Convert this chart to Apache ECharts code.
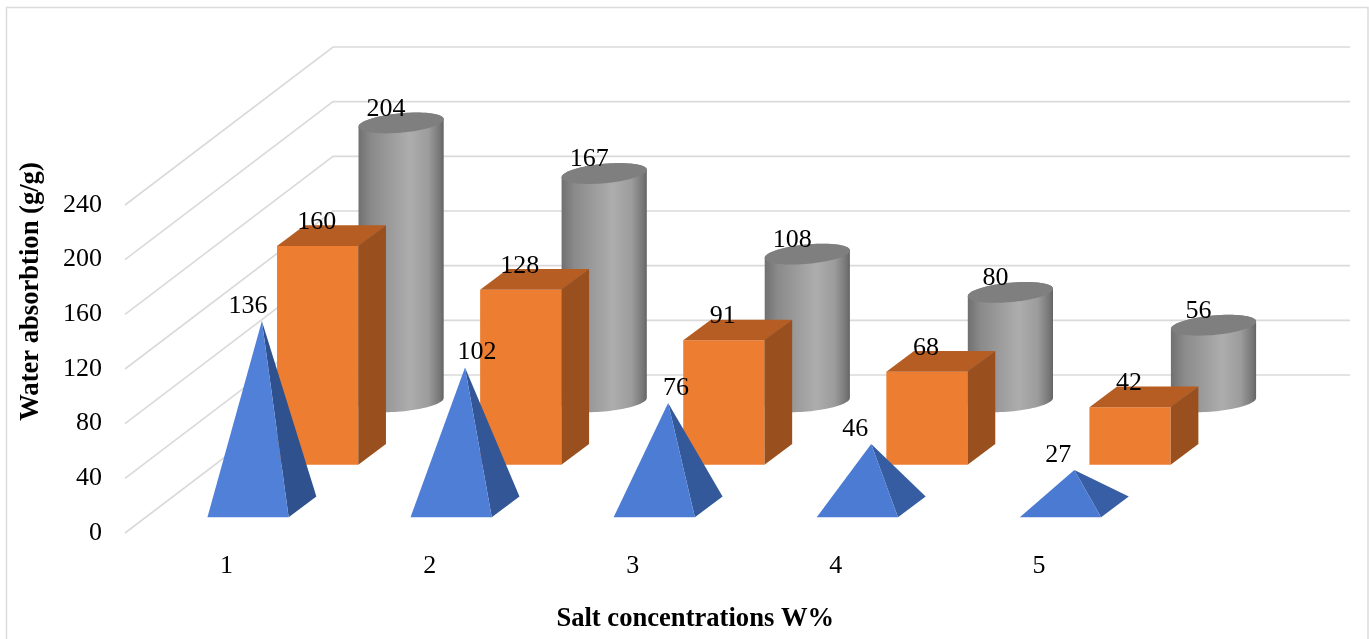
<!DOCTYPE html>
<html>
<head>
<meta charset="utf-8">
<style>html,body{margin:0;padding:0;background:#fff}#c{width:1369px;height:639px}</style>
<script src="https://cdn.jsdelivr.net/npm/echarts@6/dist/echarts.min.js"></script>
</head>
<body>
<div id="c"></div>
<script>
// ---- data ----
const categories = ['1', '2', '3', '4', '5'];
const yTicks = [0, 40, 80, 120, 160, 200, 240];
const pyramidValues = [136, 102, 76, 46, 27];
const boxValues = [160, 128, 91, 68, 42];
const cylinderValues = [204, 167, 108, 80, 56];

// ---- label nudges and projection, not data ----
const pyramidLabelNudge = [-14, 12, 8, -16, -16];
const FONT = '"Liberation Serif","Times New Roman",serif';
const LABEL_SIZE = 26;
const WIDTH_RATIO = 0.4;
const DEPTH = [27.7, -20.7];
const ROW_STEP = [69.6, -52.6];
const WALL = [208, -158];
const ROW0 = [21.5, -15.7];

const chart = echarts.init(document.getElementById('c'), null, {renderer: 'canvas'});

function pairs(a) { return a.map((v, i) => [i, v]); }
function frontBase(api, row) {
  const p = api.coord([api.value(0), 0]);
  return [p[0] + ROW0[0] + row * ROW_STEP[0], p[1] + ROW0[1] + row * ROW_STEP[1]];
}
function label(text, x, y) {
  return {type: 'text', z2: 50, silent: true,
    style: {text: String(text), x: x, y: y + 1, align: 'center', verticalAlign: 'middle',
      font: LABEL_SIZE + 'px ' + FONT, fill: '#000'}};
}
function mix(a, b, t) {
  return 'rgb(' + a.map((v, i) => Math.round(v + (b[i] - v) * t)).join(',') + ')';
}
function renderWall(params, api) {
  const x0 = params.coordSys.x, w = params.coordSys.width;
  const y = api.coord([0, api.value(1)])[1];
  return {type: 'polyline', silent: true,
    shape: {points: [[x0, y], [x0 + WALL[0], y + WALL[1]], [x0 + WALL[0] + w + 1.5, y + WALL[1]]]},
    style: {stroke: '#DADADA', lineWidth: 1.6, fill: null}};
}
function renderPyramid(params, api) {
  const v = api.value(1), w = api.size([1, 0])[0] * WIDTH_RATIO;
  const b = frontBase(api, 0);
  const h = api.coord([0, 0])[1] - api.coord([0, v])[1];
  const xL = b[0] - w / 2, xR = b[0] + w / 2;
  const apex = [b[0] + DEPTH[0] / 2, b[1] + DEPTH[1] / 2 - h];
  const t = v / 136;
  return {type: 'group', children: [
    {type: 'polygon', shape: {points: [[xR, b[1]], [xR + DEPTH[0], b[1] + DEPTH[1]], apex]},
      style: {fill: mix([58, 98, 170], [47, 82, 143], t)}},
    {type: 'polygon', shape: {points: [[xL, b[1]], [xR, b[1]], apex]},
      style: {fill: mix([74, 120, 208], [80, 128, 216], t)}},
    label(v, apex[0] + pyramidLabelNudge[api.value(0)], apex[1] - 16)
  ]};
}
function renderBox(params, api) {
  const v = api.value(1), w = api.size([1, 0])[0] * WIDTH_RATIO;
  const b = frontBase(api, 1);
  const h = api.coord([0, 0])[1] - api.coord([0, v])[1];
  const xL = b[0] - w / 2, xR = b[0] + w / 2, yB = b[1], yT = b[1] - h;
  const dx = DEPTH[0], dy = DEPTH[1];
  return {type: 'group', children: [
    {type: 'polygon', shape: {points: [[xL, yB], [xR, yB], [xR, yT], [xL, yT]]}, style: {fill: '#ED7D31'}},
    {type: 'polygon', shape: {points: [[xL, yT], [xR, yT], [xR + dx, yT + dy], [xL + dx, yT + dy]]}, style: {fill: '#B55D23'}},
    {type: 'polygon', shape: {points: [[xR, yB], [xR + dx, yB + dy], [xR + dx, yT + dy], [xR, yT]]}, style: {fill: '#9A501E'}},
    label(v, b[0] - 1, yT - 25)
  ]};
}
function ellipsePts(cx, cy, a, b, th, from, to, n) {
  const pts = [];
  for (let i = 0; i <= n; i++) {
    const t = from + (to - from) * i / n;
    pts.push([cx + a * Math.cos(t) * Math.cos(th) - b * Math.sin(t) * Math.sin(th),
              cy + a * Math.cos(t) * Math.sin(th) + b * Math.sin(t) * Math.cos(th)]);
  }
  return pts;
}
function renderCylinder(params, api) {
  const v = api.value(1), w = api.size([1, 0])[0] * WIDTH_RATIO;
  const b = frontBase(api, 2);
  const cx = b[0] + DEPTH[0] / 2, cyB = b[1] + DEPTH[1] / 2;
  const h = api.coord([0, 0])[1] - api.coord([0, v])[1];
  const cyT = cyB - h;
  const th = -5.3 * Math.PI / 180, a = (w + 4.3) / 2, ry = 9.7;
  const t0 = Math.atan2(-ry * Math.sin(th), a * Math.cos(th));
  const body = ellipsePts(cx, cyB, a, ry, th, t0, t0 + Math.PI, 40)
    .concat(ellipsePts(cx, cyT, a, ry, th, t0 + Math.PI, t0 + 2 * Math.PI, 40));
  const grad = new echarts.graphic.LinearGradient(0, 0, 1, 0, [
    {offset: 0, color: '#707070'}, {offset: 0.15, color: '#8A8A8A'},
    {offset: 0.6, color: '#ADADAD'}, {offset: 0.82, color: '#9C9C9C'},
    {offset: 0.96, color: '#757575'}, {offset: 1, color: '#636363'}]);
  return {type: 'group', children: [
    {type: 'polygon', shape: {points: body}, style: {fill: grad}},
    {type: 'polygon', shape: {points: ellipsePts(cx, cyT, a, ry, th, 0, 2 * Math.PI, 80)}, style: {fill: '#7F7F7F'}},
    label(v, cx - 15, cyT - 15)
  ]};
}

chart.setOption({
  animation: false,
  backgroundColor: '#fff',
  grid: {left: 125, top: 205, width: 1015.5, height: 328, containLabel: false, outerBoundsMode: 'none'},
  xAxis: {
    type: 'category', data: categories,
    axisLine: {show: false}, axisTick: {show: false},
    axisLabel: {margin: 20, fontFamily: FONT, fontSize: LABEL_SIZE, color: '#000'},
    name: 'Salt concentrations W%', nameLocation: 'middle', nameGap: 73,
    nameTextStyle: {fontFamily: FONT, fontWeight: 'bold', fontSize: 26.6, color: '#000', padding: [0, 0, 0, 125]}
  },
  yAxis: {
    type: 'value', min: 0, max: 240, interval: 40,
    axisLine: {show: false}, axisTick: {show: false}, splitLine: {show: false},
    axisLabel: {margin: 23, fontFamily: FONT, fontSize: LABEL_SIZE, color: '#000', padding: [2, 0, 0, 0]},
    name: 'Water absorbtion (g/g)', nameLocation: 'middle', nameGap: 80, nameRotate: 90,
    nameTextStyle: {fontFamily: FONT, fontWeight: 'bold', fontSize: 26.6, color: '#000', padding: [0, 0, 0, 155]}
  },
  graphic: [{type: 'rect', silent: true, z: -1,
    shape: {x: 6.5, y: 7.5, width: 1361.5, height: 700},
    style: {fill: null, stroke: '#DCDCDC', lineWidth: 1.5}}],
  series: [
    {type: 'custom', name: 'wall', renderItem: renderWall, data: pairs(yTicks), encode: {x: 0, y: 1}, silent: true, clip: false, z: 1},
    {type: 'custom', name: 'Cylinder', renderItem: renderCylinder, data: pairs(cylinderValues), encode: {x: 0, y: 1}, clip: false, z: 2},
    {type: 'custom', name: 'Box', renderItem: renderBox, data: pairs(boxValues), encode: {x: 0, y: 1}, clip: false, z: 3},
    {type: 'custom', name: 'Pyramid', renderItem: renderPyramid, data: pairs(pyramidValues), encode: {x: 0, y: 1}, clip: false, z: 4}
  ]
});
</script>
</body>
</html>
